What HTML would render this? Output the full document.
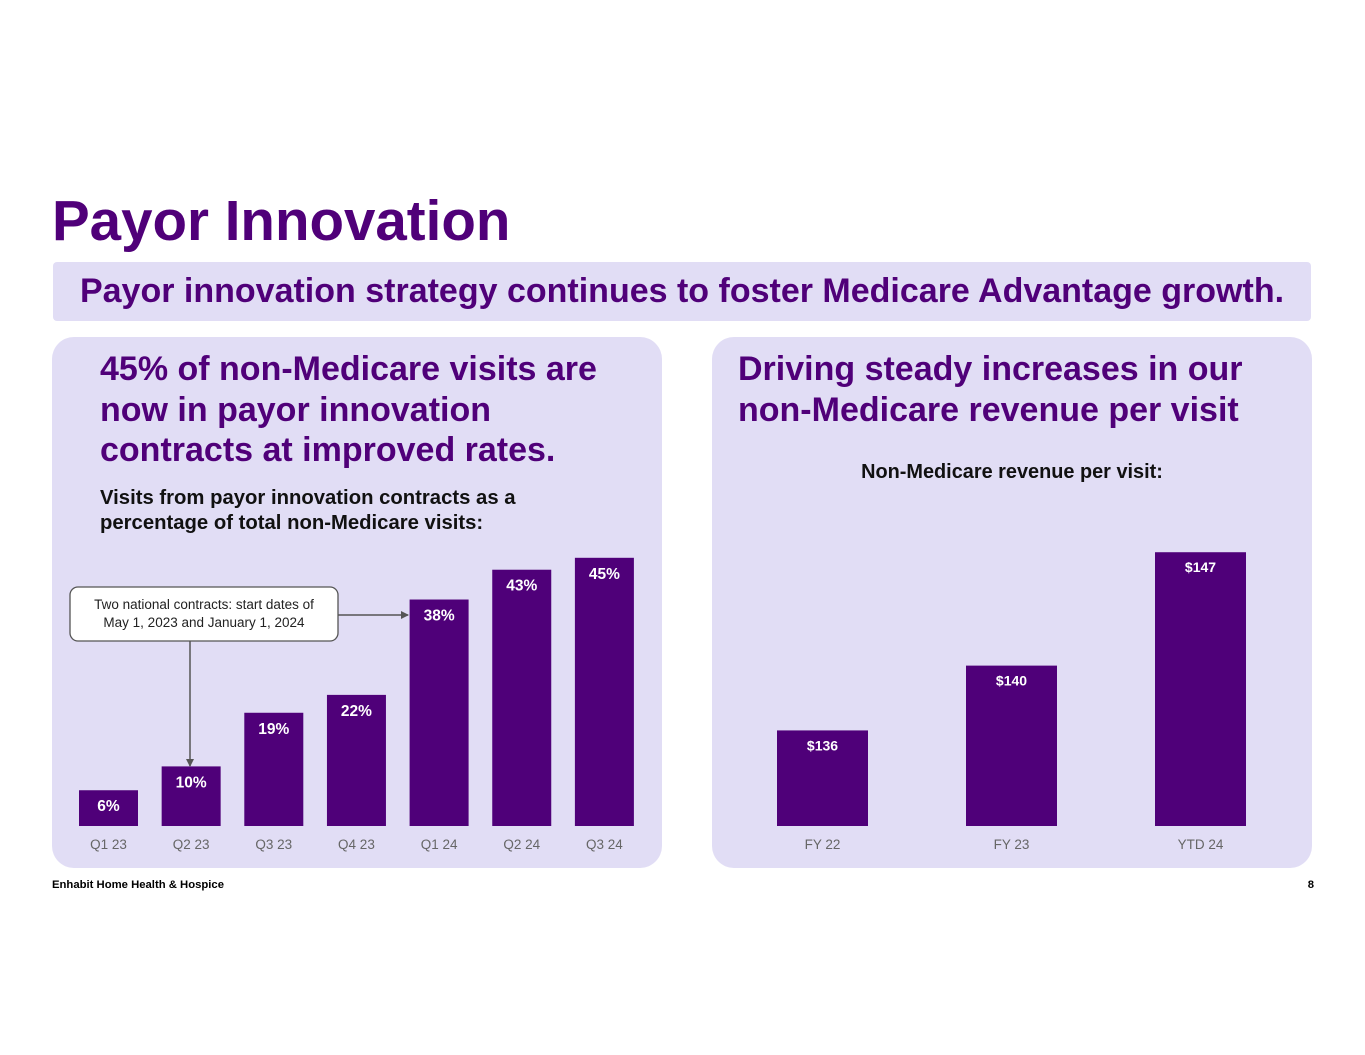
<!DOCTYPE html>
<html><head><meta charset="utf-8"><style>
body{margin:0;width:1365px;height:1055px;background:#fff;font-family:"Liberation Sans",Arial,sans-serif;position:relative;overflow:hidden}
.abs{position:absolute}
.panel{position:absolute;background:#e1ddf5;border-radius:22px}
.h{color:#500079;font-weight:bold}
</style></head><body>
<div class="abs h" style="left:52px;top:188px;font-size:56.5px;line-height:66px">Payor Innovation</div>
<div class="abs" style="left:53px;top:262px;width:1258px;height:59px;background:#e1ddf5;border-radius:4px"></div>
<div class="abs h" style="left:53px;top:270px;width:1258px;text-align:center;font-size:34px;line-height:42px;white-space:nowrap">Payor innovation strategy continues to foster Medicare Advantage growth.</div>
<div class="panel" style="left:52px;top:337px;width:610px;height:531px"></div>
<div class="panel" style="left:712px;top:337px;width:600px;height:531px"></div>
<div class="abs h" style="left:100px;top:349px;font-size:34px;line-height:40.5px;white-space:nowrap">45% of non-Medicare visits are<br>now in payor innovation<br>contracts at improved rates.</div>
<div class="abs" style="left:100px;top:486px;font-size:20.3px;font-weight:bold;line-height:25px;color:#111;white-space:nowrap">Visits from payor innovation contracts as a<br>percentage of total non-Medicare visits:</div>
<div class="abs h" style="left:738px;top:349px;font-size:34px;line-height:40.5px;white-space:nowrap">Driving steady increases in our<br>non-Medicare revenue per visit</div>
<div class="abs" style="left:712px;top:461px;width:600px;text-align:center;font-size:19.9px;font-weight:bold;color:#111">Non-Medicare revenue per visit:</div>
<svg class="abs" style="left:0;top:0" width="1365" height="1055" id="chart">
<defs><marker id="ah" markerWidth="8" markerHeight="8" refX="7" refY="4" orient="auto" markerUnits="userSpaceOnUse"><path d="M0,0 L8,4 L0,8z" fill="#555"/></marker></defs>
<g id="lbars"></g><g id="rbars"></g>
<line x1="338" y1="615" x2="408" y2="615" stroke="#555" stroke-width="1.5" marker-end="url(#ah)"/>
<line x1="190" y1="641" x2="190" y2="766" stroke="#555" stroke-width="1.5" marker-end="url(#ah)"/>
<rect x="70" y="587" width="268" height="54" rx="8" fill="#fff" stroke="#555" stroke-width="1.3"/>
<text x="204" y="609" text-anchor="middle" font-size="13.5" fill="#222">Two national contracts: start dates of</text>
<text x="204" y="627" text-anchor="middle" font-size="13.5" fill="#222">May 1, 2023 and January 1, 2024</text>
</svg>
<div class="abs" style="left:52px;top:879px;font-size:11.3px;font-weight:bold">Enhabit Home Health &amp; Hospice</div>
<div class="abs" style="left:1300px;width:14px;text-align:right;top:879px;font-size:11.3px;font-weight:bold">8</div>
<script>
const leftCats=["Q1 23","Q2 23","Q3 23","Q4 23","Q1 24","Q2 24","Q3 24"];
const leftVals=[6,10,19,22,38,43,45];
const rightCats=["FY 22","FY 23","YTD 24"];
const rightVals=[136,140,147];
const NS="http://www.w3.org/2000/svg";
const base=826;
function ly(v){return base-v*5.96;}
function lx(i){return 79+i*82.65;}
function ry(v){return base-(v-130.1)*16.2;}
function rx(i){return 777+i*189;}
function mk(tag,attrs,parent,txt){const e=document.createElementNS(NS,tag);for(const k in attrs)e.setAttribute(k,attrs[k]);if(txt!==undefined)e.textContent=txt;parent.appendChild(e);return e;}
const lg=document.getElementById('lbars');
leftVals.forEach((v,i)=>{
 const x=lx(i),y=ly(v);
 const r=mk('rect',{x:x,y:y,width:59,height:base-y,fill:'#4f0079'},lg);
 
 
 const t=mk('text',{x:x+29.5,y:y+21,'text-anchor':'middle','font-size':'15.5','font-weight':'bold',fill:'#fff'},lg,v+'%');
 
 
 const c=mk('text',{x:x+29.5,y:849,'text-anchor':'middle','font-size':'13.5',fill:'#666'},lg,leftCats[i]);
 
 
});
const rg=document.getElementById('rbars');
rightVals.forEach((v,i)=>{
 const x=rx(i),y=ry(v);
 const r=mk('rect',{x:x,y:y,width:91,height:base-y,fill:'#4f0079'},rg);
 
 
 const t=mk('text',{x:x+45.5,y:y+20,'text-anchor':'middle','font-size':'14','font-weight':'bold',fill:'#fff'},rg,'$'+v);
 
 
 const c=mk('text',{x:x+45.5,y:849,'text-anchor':'middle','font-size':'13.5',fill:'#666'},rg,rightCats[i]);
 
 
});
</script>
</body></html>
